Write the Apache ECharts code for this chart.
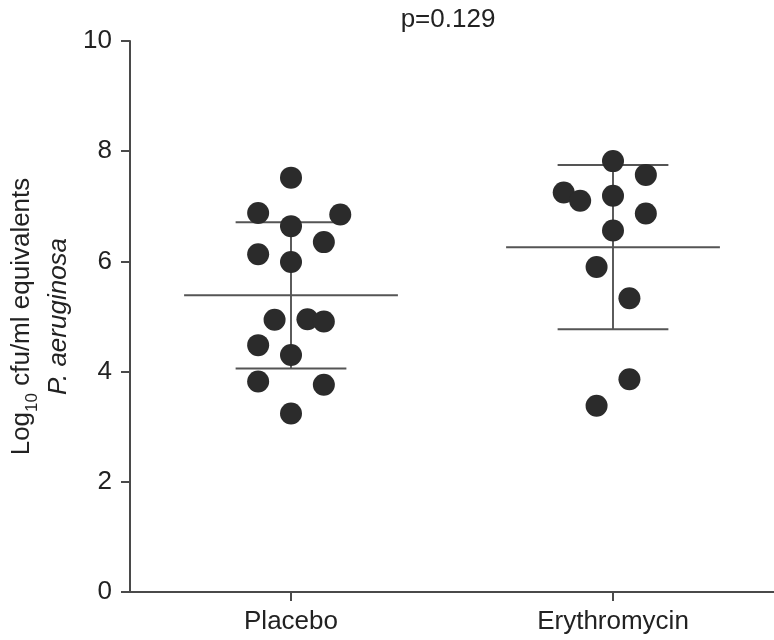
<!DOCTYPE html>
<html>
<head>
<meta charset="utf-8">
<style>
  html, body { margin: 0; padding: 0; background: #fff; }
  #chart { width: 774px; height: 640px; }
</style>
<script src="https://cdn.jsdelivr.net/npm/echarts@6/dist/echarts.min.js"></script>
</head>
<body>
<div id="chart"></div>
<script>
// Groups on the x axis
const categories = ['Placebo', 'Erythromycin'];

// Log10 cfu/ml equivalents per subject
const placeboValues = [7.52, 6.88, 6.85, 6.64, 6.35, 6.13, 5.99, 4.94, 4.95, 4.91, 4.48, 4.30, 3.82, 3.76, 3.24];
const erythromycinValues = [7.82, 7.57, 7.25, 7.10, 7.19, 6.87, 6.56, 5.90, 5.33, 3.86, 3.38];

// Swarm column of each dot (side-by-side slot within its group)
const placeboColumns = [0, -2, 3, 0, 2, -2, 0, -1, 1, 2, -2, 0, -2, 2, 0];
const erythromycinColumns = [0, 2, -3, -2, 0, 2, 0, -1, 1, 1, -1];

// Y axis ticks
const yMin = 0, yMax = 10, yStep = 2;

const pValueText = 'p=0.129';

const FONT = '"Liberation Sans", Arial, Helvetica, sans-serif';
const SLOT = 0.051;          // width of one swarm column, in group widths
const MEAN_HALF = 0.332;     // half-length of the mean bar
const CAP_HALF = 0.172;      // half-length of the SD caps

function mean(a) { return a.reduce((s, v) => s + v, 0) / a.length; }
function sd(a) {
  const m = mean(a);
  return Math.sqrt(a.reduce((s, v) => s + (v - m) * (v - m), 0) / (a.length - 1));
}

const groups = [placeboValues, erythromycinValues];
const columns = [placeboColumns, erythromycinColumns];

const dotData = [];
groups.forEach((vals, g) => {
  vals.forEach((v, i) => dotData.push([g + columns[g][i] * SLOT, v]));
});

const summaryData = groups.map((vals, g) => [g, mean(vals), sd(vals)]);

const chart = echarts.init(document.getElementById('chart'), null, { renderer: 'canvas' });

chart.setOption({
  animation: false,
  backgroundColor: '#ffffff',
  textStyle: { fontFamily: FONT },
  grid: { left: 130, top: 41, width: 650, height: 551, containLabel: false },
  xAxis: [
    {
      type: 'category',
      data: categories,
      boundaryGap: true,
      axisLine: { show: true, onZero: false, lineStyle: { color: '#4a4a4a', width: 2 } },
      axisTick: { show: true, alignWithLabel: true, length: 9, lineStyle: { color: '#4a4a4a', width: 2 } },
      axisLabel: { margin: 17, fontSize: 26, color: '#222', fontFamily: FONT },
      splitLine: { show: false }
    },
    {
      type: 'value',
      min: -0.5,
      max: 1.5,
      show: false
    }
  ],
  yAxis: {
    type: 'value',
    min: yMin,
    max: yMax,
    interval: yStep,
    axisLine: { show: true, onZero: false, lineStyle: { color: '#4a4a4a', width: 2 } },
    axisTick: { show: true, length: 9, lineStyle: { color: '#4a4a4a', width: 2 } },
    axisLabel: { margin: 18, fontSize: 26, color: '#222', fontFamily: FONT },
    splitLine: { show: false },
    name: '{n|Log}{sub|10}{n| cfu/ml equivalents}\n{it|P. aeruginosa}',
    nameLocation: 'middle',
    nameRotate: 90,
    nameGap: 52,
    nameTextStyle: {
      color: '#222',
      fontFamily: FONT,
      rich: {
        n: { fontSize: 26, lineHeight: 37, color: '#222', fontFamily: FONT },
        sub: { fontSize: 17, lineHeight: 17, verticalAlign: 'bottom', color: '#222', fontFamily: FONT },
        it: { fontSize: 26, lineHeight: 37, fontStyle: 'italic', color: '#222', fontFamily: FONT }
      }
    }
  },
  graphic: [
    {
      type: 'text',
      x: 448,
      y: 20,
      style: {
        text: pValueText,
        fontSize: 26,
        fontFamily: FONT,
        fill: '#222',
        textAlign: 'center',
        textVerticalAlign: 'middle'
      }
    }
  ],
  series: [
    {
      type: 'custom',
      xAxisIndex: 1,
      z: 1,
      data: summaryData,
      renderItem: function (params, api) {
        const g = api.value(0), m = api.value(1), s = api.value(2);
        const lineStyle = { stroke: '#555', lineWidth: 2 };
        const meanL = api.coord([g - MEAN_HALF, m]);
        const meanR = api.coord([g + MEAN_HALF, m]);
        const topL = api.coord([g - CAP_HALF, m + s]);
        const topR = api.coord([g + CAP_HALF, m + s]);
        const botL = api.coord([g - CAP_HALF, m - s]);
        const botR = api.coord([g + CAP_HALF, m - s]);
        const vTop = api.coord([g, m + s]);
        const vBot = api.coord([g, m - s]);
        return {
          type: 'group',
          children: [
            { type: 'line', shape: { x1: vTop[0], y1: vTop[1], x2: vBot[0], y2: vBot[1] }, style: { stroke: '#333', lineWidth: 1.6 } },
            { type: 'line', shape: { x1: meanL[0], y1: meanL[1], x2: meanR[0], y2: meanR[1] }, style: lineStyle },
            { type: 'line', shape: { x1: topL[0], y1: topL[1], x2: topR[0], y2: topR[1] }, style: lineStyle },
            { type: 'line', shape: { x1: botL[0], y1: botL[1], x2: botR[0], y2: botR[1] }, style: lineStyle }
          ]
        };
      }
    },
    {
      type: 'scatter',
      xAxisIndex: 1,
      z: 2,
      symbol: 'circle',
      symbolSize: 22,
      itemStyle: { color: '#2b2b2b', opacity: 1 },
      data: dotData
    }
  ]
});
</script>
</body>
</html>
